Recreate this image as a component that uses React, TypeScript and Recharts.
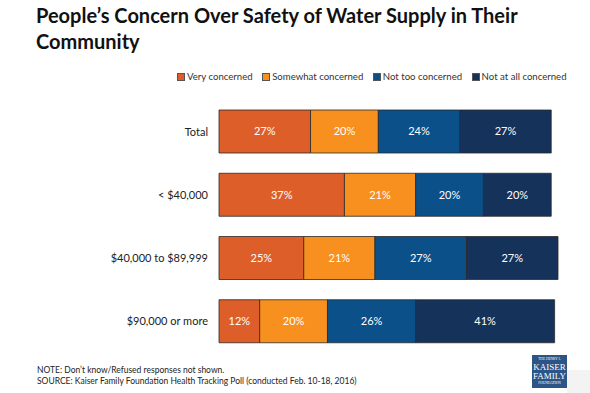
import { BarChart, Bar, XAxis, YAxis, LabelList } from "recharts";

const categories = ["Total", "< $40,000", "$40,000 to $89,999", "$90,000 or more"];
const veryConcerned = [27, 37, 25, 12];
const somewhatConcerned = [20, 21, 21, 20];
const notTooConcerned = [24, 20, 27, 26];
const notAtAllConcerned = [27, 20, 27, 41];

const seriesNames = ["Very concerned", "Somewhat concerned", "Not too concerned", "Not at all concerned"];
const seriesKeys = ["very", "somewhat", "notToo", "notAtAll"];
const seriesColors = ["#DD5E29", "#F7901E", "#0B5089", "#15325B"];

const data = categories.map((name, i) => ({
  name,
  very: veryConcerned[i],
  somewhat: somewhatConcerned[i],
  notToo: notTooConcerned[i],
  notAtAll: notAtAllConcerned[i],
}));

const font = "Lato, 'Open Sans', sans-serif";

export default function App() {
  return (
    <div
      style={{
        position: "absolute",
        left: 0,
        top: 0,
        width: 590,
        height: 393,
        background: "#ffffff",
        fontFamily: font,
        overflow: "hidden",
      }}
    >
      <div
        style={{
          position: "absolute",
          left: 36,
          top: 2,
          width: 550,
          fontSize: 20,
          fontWeight: 700,
          lineHeight: "26px",
          color: "#111",
        }}
      >
        People’s Concern Over Safety of Water Supply in Their Community
      </div>

      <div
        style={{
          position: "absolute",
          left: 177,
          top: 71,
          display: "flex",
          fontSize: 9.6,
          color: "#333",
          whiteSpace: "nowrap",
        }}
      >
        {seriesNames.map((n, i) => (
          <div key={n} style={{ display: "flex", alignItems: "center", marginRight: 9.5 }}>
            <span
              style={{
                display: "inline-block",
                width: 6,
                height: 6,
                background: seriesColors[i],
                border: "0.5px solid #555",
                marginRight: 2,
              }}
            />
            {n}
          </div>
        ))}
      </div>

      <div style={{ position: "absolute", left: 0, top: 0 }}>
        <BarChart
          width={590}
          height={393}
          data={data}
          layout="vertical"
          margin={{ top: 100, right: 32, left: 0, bottom: 40 }}
          barCategoryGap={10}
        >
          <XAxis type="number" domain={[0, 100]} hide />
          <YAxis
            type="category"
            dataKey="name"
            width={219}
            axisLine={false}
            tickLine={false}
            tickSize={0}
            tickMargin={11}
            tick={{ fill: "#222", fontSize: 11, fontFamily: font }}
          />
          {seriesKeys.map((k, i) => (
            <Bar
              key={k}
              dataKey={k}
              stackId="a"
              fill={seriesColors[i]}
              stroke="#2a2a2a"
              strokeWidth={0.8}
              isAnimationActive={false}
            >
              <LabelList
                dataKey={k}
                position="center"
                formatter={(v: number) => `${v}%`}
                style={{ fill: "#ffffff", fontSize: 11, fontFamily: font }}
              />
            </Bar>
          ))}
        </BarChart>
      </div>

      <div
        style={{
          position: "absolute",
          left: 37,
          top: 365,
          fontSize: 8.5,
          lineHeight: "11px",
          color: "#222",
        }}
      >
        <div>NOTE: Don’t know/Refused responses not shown.</div>
        <div>SOURCE: Kaiser Family Foundation Health Tracking Poll (conducted Feb. 10-18, 2016)</div>
      </div>

      <div
        style={{
          position: "absolute",
          left: 567,
          top: 370,
          width: 23,
          height: 23,
          background: "#f3f3f3",
        }}
      />
      <div
        style={{
          position: "absolute",
          left: 532,
          top: 355,
          width: 35,
          height: 33,
          background: "#2C5486",
          color: "#fff",
          fontFamily: "'Liberation Serif', serif",
          textAlign: "center",
          lineHeight: 1,
        }}
      >
        <div style={{ fontSize: 3.5, marginTop: 3 }}>THE HENRY J.</div>
        <div style={{ fontSize: 9, marginTop: 1 }}>KAISER</div>
        <div style={{ fontSize: 9 }}>FAMILY</div>
        <div style={{ fontSize: 3.5, marginTop: 1 }}>FOUNDATION</div>
      </div>
    </div>
  );
}
